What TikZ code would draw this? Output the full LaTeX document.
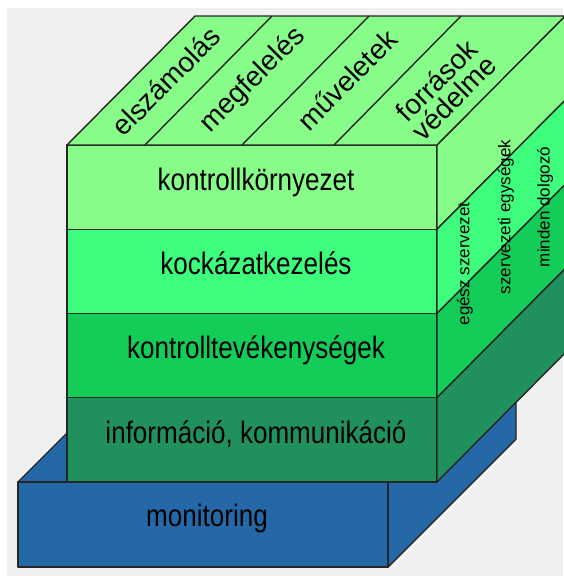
\documentclass[tikz,border=0pt]{standalone}
\usepackage{fontspec}
\setmainfont{Liberation Sans}
\definecolor{bgrey}{HTML}{F0F0F0}
\definecolor{rowa}{HTML}{88FC88}
\definecolor{rowb}{HTML}{3EFC7C}
\definecolor{rowc}{HTML}{14CC58}
\definecolor{rowd}{HTML}{20905C}
\definecolor{basecol}{HTML}{2468A8}

\begin{document}
\begin{tikzpicture}[x=1pt,y=-1pt,
    edge/.style={draw=black!85,line width=1.4pt,line join=round},
    frontlabel/.style={font=\fontsize{31}{31}\selectfont,xscale=0.84,inner sep=0pt,anchor=base},
    toplabel/.style={font=\fontsize{28}{24}\selectfont,rotate=45,inner sep=0pt,align=center},
    sidelabel/.style={font=\fontsize{17}{17}\selectfont,rotate=90,inner sep=0pt}]
      \useasboundingbox (0,0) rectangle (563,576);
      \fill [bgrey] (7,8) rectangle (563,576);
      % monitoring base
      \filldraw [edge,fill=basecol] (18,482)--(146,354)--(516,354)--(388,482)--cycle;
      \filldraw [edge,fill=basecol] (388,482)--(516,354)--(516,439)--(388,567)--cycle;
      \filldraw [edge,fill=basecol] (18,482) rectangle (388,567);
      % cube rows, front and right side
      \filldraw [edge,fill=rowa] (67,145) rectangle (437,229.25);
      \filldraw [edge,fill=rowa] (437,145)--(565,16)--(565,100.25)--(437,229.25)--cycle;
      \filldraw [edge,fill=rowb] (67,229.25) rectangle (437,313.5);
      \filldraw [edge,fill=rowb] (437,229.25)--(565,100.25)--(565,184.5)--(437,313.5)--cycle;
      \filldraw [edge,fill=rowc] (67,313.5) rectangle (437,397.75);
      \filldraw [edge,fill=rowc] (437,313.5)--(565,184.5)--(565,268.75)--(437,397.75)--cycle;
      \filldraw [edge,fill=rowd] (67,397.75) rectangle (437,482);
      \filldraw [edge,fill=rowd] (437,397.75)--(565,268.75)--(565,353)--(437,482)--cycle;
      % top face
      \filldraw [edge,fill=rowa] (67,145)--(195,16)--(565,16)--(437,145)--cycle;
      \draw [edge] (145,145)--(272,16);
      \draw [edge] (242,145)--(369,16);
      \draw [edge] (334,145)--(461,16);
      % labels
      \node [frontlabel] (env) at (256,190) {kontrollkörnyezet};
      \node [frontlabel] (risk) at (256,274) {kockázatkezelés};
      \node [frontlabel] (act) at (256,358) {kontrolltevékenységek};
      \node [frontlabel] (info) at (256,443) {információ, kommunikáció};
      \node [frontlabel] (monit) at (207,526) {monitoring};
      \node [toplabel] (acc) at (166,81) {elszámolás};
      \node [toplabel] (comp) at (253,80) {megfelelés};
      \node [toplabel] (oper) at (347,80) {műveletek};
      \node [toplabel] (asset) at (445,89) {források\\védelme};
      \node [sidelabel] (org) at (465,264) {egész szervezet};
      \node [sidelabel] (unit) at (506,217) {szervezeti egységek};
      \node [sidelabel] (staff) at (545,207) {minden dolgozó};
\end{tikzpicture}
\end{document}
